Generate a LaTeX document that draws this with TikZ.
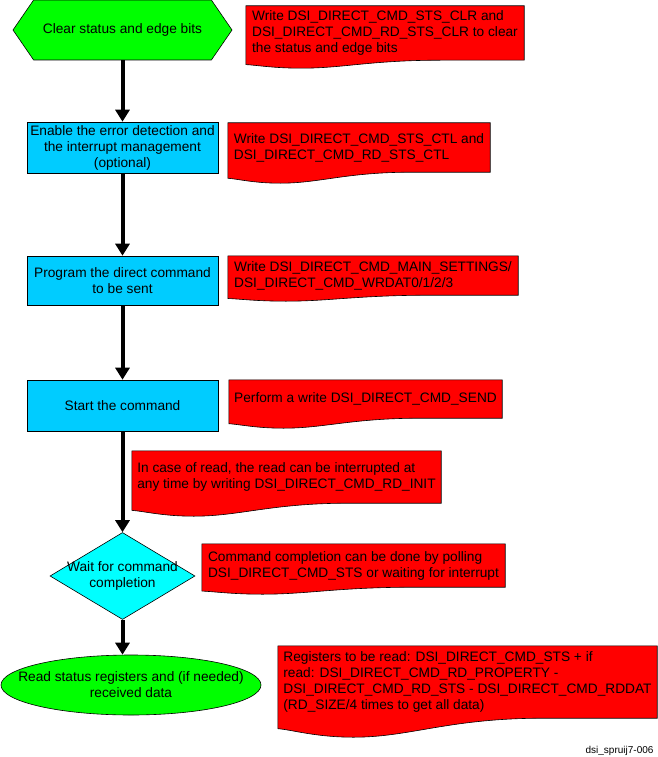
\documentclass[tikz,border=0pt]{standalone}
\usepackage{fontspec}
\setmainfont{Liberation Sans}
\usetikzlibrary{shapes.geometric, shapes.symbols, arrows.meta, calc, backgrounds}

\definecolor{stepgreen}{RGB}{0,255,0}
\definecolor{procblue}{RGB}{0,204,255}
\definecolor{deccyan}{RGB}{0,255,255}
\definecolor{notered}{RGB}{255,0,0}

\begin{document}
\begin{tikzpicture}[
        x=1pt, y=-1pt,
        font=\fontsize{13.7}{16}\selectfont,
        % Styles for the flow chart components
        terminal/.style={
            signal, signal to=west and east, signal pointer angle=111,
            draw, fill=stepgreen, line width=0.6pt,
            minimum width=219pt, minimum height=60pt
        },
        process/.style={
            rectangle, draw, fill=procblue, line width=0.6pt,
            inner sep=2pt, minimum width=191pt, minimum height=50pt,
            align=center
        },
        decision/.style={
            diamond, draw, fill=deccyan, line width=0.6pt,
            aspect=1.67, minimum width=145pt, minimum height=87pt
        },
        finish/.style={
            ellipse, draw, fill=stepgreen, line width=0.6pt,
            minimum width=260pt, minimum height=60pt
        },
        note/.style={rectangle, inner sep=3pt, align=left},
        notebg/.style={draw, fill=notered, line width=0.6pt},
        flow/.style={line width=4pt, -{Triangle[width=14pt,length=12pt]}}
    ]

    \useasboundingbox (0,0) rectangle (658,757);

    % 1. FLOW STEPS
    \node[terminal, label={center:Clear status and edge bits}] (clear) at (122.5,30) {};
    \node[process, minimum height=51pt] (enable) at (122.5,147.5)
        {Enable the error detection and\\the interrupt management\\(optional)};
    \node[process, minimum height=49pt] (program) at (122.5,280.5)
        {Program the direct command\\to be sent};
    \node[process, minimum height=51pt] (start) at (122.5,405.5) {Start the command};
    \node[decision, label={[align=center]center:Wait for command\\completion}] (wait) at (122.5,576) {};
    \node[finish, label={[align=center]center:Read status registers and (if needed)\\received data}] (read) at (131,685) {};

    % Arrows between the steps
    \draw[flow] (clear) -- (enable);
    \draw[flow] (enable) -- (program);
    \draw[flow] (program) -- (start);
    \draw[flow] (start) -- (wait);
    \draw[flow] (wait) -- (wait |- read.north);

    % 2. REGISTER NOTES
    \node[note, minimum width=278pt, minimum height=54pt] (n1) at (385,33)
        {Write DSI\_DIRECT\_CMD\_STS\_CLR and\\DSI\_DIRECT\_CMD\_RD\_STS\_CLR to clear\\the status and edge bits};
    \node[note, minimum width=262pt, minimum height=49pt] (n2) at (359,147.5)
        {Write DSI\_DIRECT\_CMD\_STS\_CTL and\\DSI\_DIRECT\_CMD\_RD\_STS\_CTL};
    \node[note, minimum width=290pt, minimum height=39pt] (n3) at (373,275.5)
        {Write DSI\_DIRECT\_CMD\_MAIN\_SETTINGS/\\DSI\_DIRECT\_CMD\_WRDAT0/1/2/3};
    \node[note, minimum width=273pt, minimum height=38pt] (n4) at (365.5,399)
        {Perform a write DSI\_DIRECT\_CMD\_SEND};
    \node[note, minimum width=309pt, minimum height=52pt] (n5) at (286.5,477)
        {In case of read, the read can be interrupted at\\any time by writing DSI\_DIRECT\_CMD\_RD\_INIT};
    \node[note, minimum width=303pt, minimum height=43pt] (n6) at (353.5,565.5)
        {Command completion can be done by polling\\DSI\_DIRECT\_CMD\_STS or waiting for interrupt};
    \node[note, minimum width=379pt, minimum height=72pt] (n7) at (467.5,682)
        {Registers to be read: DSI\_DIRECT\_CMD\_STS + if\\read: DSI\_DIRECT\_CMD\_RD\_PROPERTY -\\DSI\_DIRECT\_CMD\_RD\_STS - DSI\_DIRECT\_CMD\_RDDAT\\(RD\_SIZE/4 times to get all data)};

    % Document shapes behind the notes (wavy bottom)
    \begin{scope}[on background layer]
    \foreach \n/\dep in {n1/8, n2/11, n3/6, n4/10, n5/13, n6/7, n7/19}
        \filldraw[notebg] (\n.north west) -- (\n.north east) -- (\n.south east)
            -- ($(\n.south west)!0.7!(\n.south east)$)
            .. controls ($(\n.south west)!0.45!(\n.south east)$)
            and ($(\n.south west)!0.35!(\n.south east)+(0,\dep)$)
            .. ($(\n.south west)!0.2!(\n.south east)+(0,\dep)$)
            .. controls ($(\n.south west)!0.1!(\n.south east)+(0,\dep)$)
            and ($(\n.south west)!0.04!(\n.south east)+(0,0.62*\dep)$)
            .. ($(\n.south west)+(0,0.55*\dep)$) -- cycle;
    \end{scope}

    % 3. FIGURE TAG
    \node[anchor=base east, font=\fontsize{10}{12}\selectfont] (tag) at (657,753) {dsi\_spruij7-006};

\end{tikzpicture}
\end{document}
